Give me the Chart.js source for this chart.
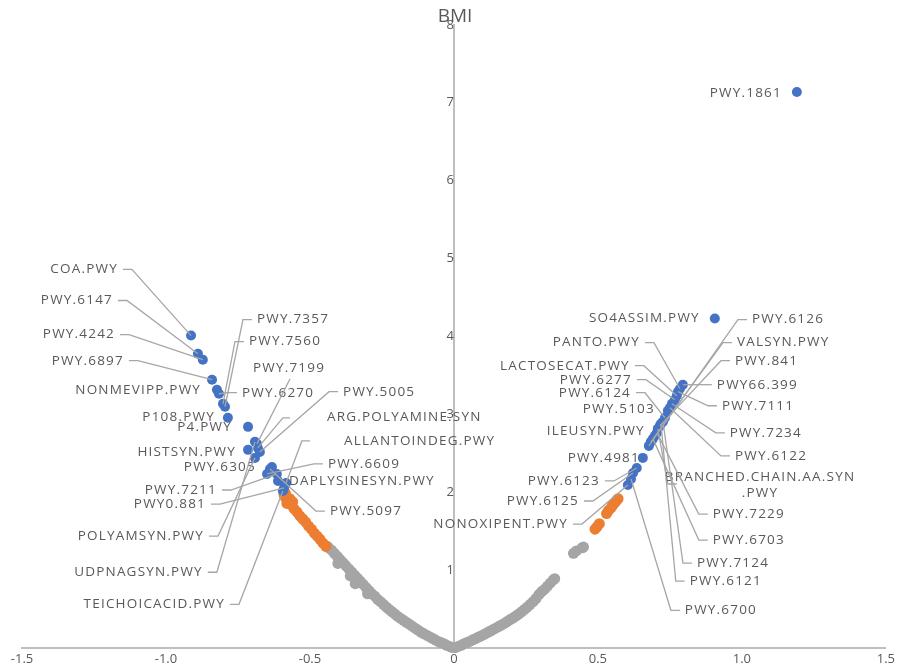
<!DOCTYPE html>
<html>
<head>
<meta charset="utf-8">
<title>BMI</title>
<script src="https://cdn.jsdelivr.net/npm/chart.js@4.4.1/dist/chart.umd.min.js"></script>
<style>
  html, body { margin: 0; padding: 0; background: #ffffff; }
  #wrap { width: 898px; height: 670px; }
</style>
</head>
<body>
<div id="wrap"><canvas id="chart" width="898" height="670"></canvas></div>
<script>
// Non-significant pathways (grey)
const grayX = [
  -0.44, -0.435, -0.425, -0.415, -0.405, -0.395, -0.385, -0.375, -0.365, -0.355,
  -0.345, -0.335, -0.325, -0.315, -0.305, -0.295, -0.285, -0.275, -0.265, -0.255,
  -0.245, -0.235, -0.225, -0.215, -0.205, -0.195, -0.185, -0.175, -0.165, -0.155,
  -0.145, -0.135, -0.125, -0.115, -0.105, -0.095, -0.085, -0.075, -0.065, -0.055,
  -0.045, -0.035, -0.025, -0.015, -0.005,
  -0.403, -0.343, -0.36, -0.30,
  0.005, 0.015, 0.025, 0.035, 0.045, 0.055, 0.065, 0.075, 0.085, 0.095,
  0.105, 0.115, 0.125, 0.135, 0.145, 0.155, 0.165, 0.175, 0.185, 0.195,
  0.205, 0.215, 0.225, 0.235, 0.245, 0.255, 0.265, 0.275, 0.285, 0.295,
  0.305, 0.315, 0.325, 0.335, 0.345, 0.35,
  0.415, 0.425, 0.445, 0.45
];
const grayY = [
  1.31, 1.29, 1.26, 1.22, 1.18, 1.14, 1.10, 1.06, 1.02, 0.98,
  0.94, 0.90, 0.86, 0.82, 0.78, 0.74, 0.70, 0.67, 0.63, 0.60,
  0.565, 0.53, 0.50, 0.47, 0.44, 0.41, 0.385, 0.36, 0.335, 0.31,
  0.285, 0.26, 0.235, 0.21, 0.19, 0.17, 0.15, 0.13, 0.11, 0.09,
  0.075, 0.06, 0.04, 0.025, 0.01,
  1.09, 0.83, 0.93, 0.70,
  0.01, 0.025, 0.04, 0.06, 0.075, 0.09, 0.11, 0.125, 0.145, 0.16,
  0.18, 0.20, 0.22, 0.24, 0.26, 0.28, 0.30, 0.32, 0.345, 0.37,
  0.39, 0.415, 0.44, 0.47, 0.50, 0.53, 0.565, 0.60, 0.64, 0.69,
  0.73, 0.76, 0.80, 0.84, 0.88, 0.895,
  1.22, 1.25, 1.29, 1.30
];

// Nominally significant pathways (orange)
const orangeX = [
  -0.445, -0.455, -0.465, -0.475, -0.485, -0.495, -0.505, -0.515, -0.525, -0.535,
  -0.545, -0.555, -0.565, -0.575, -0.585, -0.59, -0.585, -0.58, -0.57, -0.56,
  0.49, 0.497, 0.505, 0.53, 0.537, 0.547, 0.552, 0.559, 0.565, 0.57
];
const orangeY = [
  1.31, 1.35, 1.40, 1.44, 1.48, 1.53, 1.57, 1.62, 1.66, 1.70,
  1.75, 1.79, 1.84, 1.88, 1.93, 1.97, 1.99, 1.86, 1.92, 1.88,
  1.53, 1.56, 1.60, 1.73, 1.77, 1.81, 1.84, 1.87, 1.90, 1.92
];

// Significant pathways (blue), named
const blueNames = [
  'COA.PWY', 'PWY.6147', 'PWY.4242', 'PWY.6897', 'NONMEVIPP.PWY', 'PWY.6270',
  'PWY.7560', 'PWY.7357', 'P108.PWY', 'P4.PWY', 'PWY.7199', 'ARG.POLYAMINE.SYN',
  'UDPNAGSYN.PWY', 'HISTSYN.PWY', 'PWY.5005', 'POLYAMSYN.PWY', 'PWY.6305', 'PWY.5097',
  'PWY.6609', 'PWY.7211', 'DAPLYSINESYN.PWY', 'ALLANTOINDEG.PWY', 'PWY0.881', 'TEICHOICACID.PWY',
  'PWY.1861', 'SO4ASSIM.PWY', 'PWY66.399', 'PANTO.PWY', 'PWY.7111', 'LACTOSECAT.PWY',
  'PWY.6277', 'PWY.7234', 'PWY.6122', 'PWY.5103', 'PWY.6124', 'PWY.7124',
  'PWY.6121', 'PWY.841', 'BRANCHED.CHAIN.AA.SYN.PWY', 'PWY.7229', 'ILEUSYN.PWY', 'PWY.6703',
  'VALSYN.PWY', 'PWY.6126', 'PWY.4981', 'PWY.6123', 'PWY.6125', 'PWY.6700',
  'NONOXIPENT.PWY'
];
const blueX = [
  -0.913, -0.889, -0.872, -0.840, -0.823, -0.816,
  -0.802, -0.795, -0.785, -0.715, -0.684, -0.681,
  -0.691, -0.715, -0.674, -0.691, -0.632, -0.639,
  -0.649, -0.615, -0.611, -0.583, -0.590, -0.594,
  1.191, 0.906, 0.795, 0.785, 0.778, 0.774,
  0.767, 0.757, 0.750, 0.743, 0.733, 0.726,
  0.719, 0.715, 0.708, 0.705, 0.698, 0.691,
  0.684, 0.677, 0.656, 0.635, 0.622, 0.615,
  0.604
];
const blueY = [
  4.013, 3.781, 3.704, 3.447, 3.318, 3.267,
  3.138, 3.100, 2.958, 2.842, 2.624, 2.572,
  2.650, 2.547, 2.521, 2.444, 2.328, 2.302,
  2.238, 2.238, 2.148, 2.122, 2.058, 2.019,
  7.138, 4.232, 3.383, 3.331, 3.293, 3.241,
  3.190, 3.138, 3.087, 3.048, 2.958, 2.907,
  2.881, 2.855, 2.817, 2.765, 2.727, 2.688,
  2.650, 2.598, 2.444, 2.315, 2.251, 2.174,
  2.096
];

const xTicks = [-1.5, -1, -0.5, 0, 0.5, 1, 1.5];
const yTicks = [0, 1, 2, 3, 4, 5, 6, 7, 8];

// Where each pathway name sits (axis units) and how its leader runs
const labelLayout = [
  { name: 'COA.PWY', at: [-1.167, 4.862], align: 'right' },
  { name: 'PWY.6147', at: [-1.184, 4.463], align: 'right' },
  { name: 'PWY.4242', at: [-1.177, 4.026], align: 'right' },
  { name: 'PWY.6897', at: [-1.146, 3.691], align: 'right' },
  { name: 'NONMEVIPP.PWY', at: [-0.878, 3.318], align: 'right', leader: false },
  { name: 'P108.PWY', at: [-0.830, 2.971], align: 'right', leader: false },
  { name: 'P4.PWY', at: [-0.771, 2.842], align: 'right', leader: false },
  { name: 'HISTSYN.PWY', at: [-0.757, 2.521], align: 'right', leader: false },
  { name: 'PWY.6305', at: [-0.6875, 2.328], align: 'right', leader: false },
  { name: 'PWY.7211', at: [-0.823, 2.032], align: 'right' },
  { name: 'PWY0.881', at: [-0.861, 1.852], align: 'right' },
  { name: 'POLYAMSYN.PWY', at: [-0.868, 1.441], align: 'right' },
  { name: 'UDPNAGSYN.PWY', at: [-0.872, 0.977], align: 'right' },
  { name: 'TEICHOICACID.PWY', at: [-0.795, 0.566], align: 'right' },
  { name: 'PWY.7357', at: [-0.684, 4.219], align: 'left' },
  { name: 'PWY.7560', at: [-0.7118, 3.936], align: 'left' },
  { name: 'PWY.6270', at: [-0.736, 3.280], align: 'left' },
  { name: 'PWY.7199', at: [-0.698, 3.601], align: 'left', elbow: [[-0.569, 3.46]] },
  { name: 'PWY.5005', at: [-0.385, 3.293], align: 'left' },
  { name: 'ARG.POLYAMINE.SYN', at: [-0.441, 2.971], align: 'left', elbow: [[-0.569, 2.958], [-0.594, 2.958]] },
  { name: 'ALLANTOINDEG.PWY', at: [-0.382, 2.662], align: 'left', elbow: [[-0.5, 2.662], [-0.528, 2.662]] },
  { name: 'PWY.6609', at: [-0.4375, 2.367], align: 'left' },
  { name: 'DAPLYSINESYN.PWY', at: [-0.573, 2.148], align: 'left', leader: false },
  { name: 'PWY.5097', at: [-0.4306, 1.762], align: 'left' },

  { name: 'PWY.1861', at: [1.139, 7.125], align: 'right', leader: false },
  { name: 'SO4ASSIM.PWY', at: [0.854, 4.232], align: 'right', leader: false },
  { name: 'PWY.6126', at: [1.035, 4.219], align: 'left' },
  { name: 'VALSYN.PWY', at: [0.983, 3.923], align: 'left' },
  { name: 'PANTO.PWY', at: [0.646, 3.923], align: 'right' },
  { name: 'PWY.841', at: [0.976, 3.691], align: 'left' },
  { name: 'LACTOSECAT.PWY', at: [0.611, 3.627], align: 'right' },
  { name: 'PWY66.399', at: [0.913, 3.383], align: 'left' },
  { name: 'PWY.6277', at: [0.618, 3.447], align: 'right' },
  { name: 'PWY.7111', at: [0.931, 3.113], align: 'left' },
  { name: 'PWY.6124', at: [0.615, 3.280], align: 'right' },
  { name: 'PWY.5103', at: [0.698, 3.074], align: 'right', leader: false },
  { name: 'PWY.7234', at: [0.958, 2.765], align: 'left' },
  { name: 'ILEUSYN.PWY', at: [0.663, 2.791], align: 'right', leader: false },
  { name: 'PWY.6122', at: [0.976, 2.469], align: 'left' },
  { name: 'BRANCHED.CHAIN.AA.SYN.PWY', lines: ['BRANCHED.CHAIN.AA.SYN', '.PWY'], at: [1.063, 2.199], align: 'center',
    elbow: [[0.774, 2.109], [0.743, 2.109]] },
  { name: 'PWY.4981', at: [0.646, 2.444], align: 'right', leader: false },
  { name: 'PWY.6123', at: [0.507, 2.148], align: 'right' },
  { name: 'PWY.6125', at: [0.434, 1.891], align: 'right' },
  { name: 'NONOXIPENT.PWY', at: [0.396, 1.595], align: 'right' },
  { name: 'PWY.7229', at: [0.899, 1.723], align: 'left' },
  { name: 'PWY.6703', at: [0.899, 1.389], align: 'left' },
  { name: 'PWY.7124', at: [0.844, 1.093], align: 'left' },
  { name: 'PWY.6121', at: [0.819, 0.862], align: 'left' },
  { name: 'PWY.6700', at: [0.802, 0.489], align: 'left' }
];

const TEXT_COLOR = '#595959';
const LABEL_FONT = '13.5px "Open Sans"';

function toPoints(xs, ys) {
  return xs.map((v, i) => ({ x: v, y: ys[i] }));
}

// Pathway names with Excel-style leader lines
const pathwayLabels = {
  id: 'pathwayLabels',
  afterDatasetsDraw(chart) {
    const { ctx } = chart;
    const sx = chart.scales.x, sy = chart.scales.y;
    ctx.save();
    ctx.font = LABEL_FONT;
    ctx.letterSpacing = '1.2px';
    ctx.fillStyle = TEXT_COLOR;
    ctx.strokeStyle = '#a6a6a6';
    ctx.lineWidth = 1.3;
    ctx.textBaseline = 'middle';
    labelLayout.forEach(lab => {
      const i = blueNames.indexOf(lab.name);
      if (i < 0) return;
      const px = sx.getPixelForValue(blueX[i]);
      const py = sy.getPixelForValue(blueY[i]);
      const tx = sx.getPixelForValue(lab.at[0]);
      const ty = sy.getPixelForValue(lab.at[1]);
      if (lab.leader !== false) {
        let pts;
        if (lab.elbow) {
          pts = lab.elbow.map(p => [sx.getPixelForValue(p[0]), sy.getPixelForValue(p[1])]);
        } else if (lab.align === 'right') {
          pts = [[tx + 5, ty], [tx + 14, ty]];
        } else {
          pts = [[tx - 5, ty], [tx - 14, ty]];
        }
        ctx.beginPath();
        ctx.moveTo(pts[0][0], pts[0][1]);
        for (let k = 1; k < pts.length; k++) ctx.lineTo(pts[k][0], pts[k][1]);
        ctx.lineTo(px, py);
        ctx.stroke();
      }
      ctx.textAlign = lab.align;
      const lines = lab.lines || [lab.name];
      lines.forEach((t, k) => ctx.fillText(t, tx, ty + k * 16));
    });
    ctx.restore();
  }
};

const chart = new Chart(document.getElementById('chart'), {
  type: 'scatter',
  data: {
    datasets: [
      { label: 'ns', data: toPoints(grayX, grayY), backgroundColor: '#A5A5A5', borderWidth: 0, pointRadius: 5.5, clip: false, order: 3 },
      { label: 'nominal', data: toPoints(orangeX, orangeY), backgroundColor: '#ED7D31', borderWidth: 0, pointRadius: 5.5, clip: false, order: 2 },
      { label: 'significant', data: toPoints(blueX, blueY), backgroundColor: '#4472C4', borderWidth: 0, pointRadius: 5, clip: false, order: 1 }
    ]
  },
  options: {
    responsive: false,
    animation: false,
    devicePixelRatio: 1,
    layout: { padding: { left: 22, right: 10, top: 0, bottom: 0 } },
    plugins: {
      legend: { display: false },
      tooltip: { enabled: false },
      title: {
        display: true,
        text: 'BMI',
        color: TEXT_COLOR,
        font: { family: '"Open Sans"', size: 19, weight: 'normal' },
        padding: { top: 5, bottom: -3 }
      }
    },
    scales: {
      x: {
        type: 'linear',
        min: xTicks[0],
        max: xTicks[xTicks.length - 1],
        afterBuildTicks: axis => { axis.ticks = xTicks.map(v => ({ value: v })); },
        grid: { display: false, drawTicks: false },
        border: { display: true, color: '#bfbfbf', width: 2 },
        ticks: { color: TEXT_COLOR, font: { family: '"Open Sans"', size: 13 }, padding: 3, maxRotation: 0 }
      },
      y: {
        type: 'linear',
        position: { x: 0 },
        min: yTicks[0],
        max: yTicks[yTicks.length - 1],
        afterBuildTicks: axis => { axis.ticks = yTicks.map(v => ({ value: v })); },
        grid: { display: false, drawTicks: false },
        border: { display: true, color: '#bfbfbf', width: 2 },
        ticks: { color: TEXT_COLOR, font: { family: '"Open Sans"', size: 13 }, padding: 8 }
      }
    }
  },
  plugins: [pathwayLabels]
});
</script>
</body>
</html>
